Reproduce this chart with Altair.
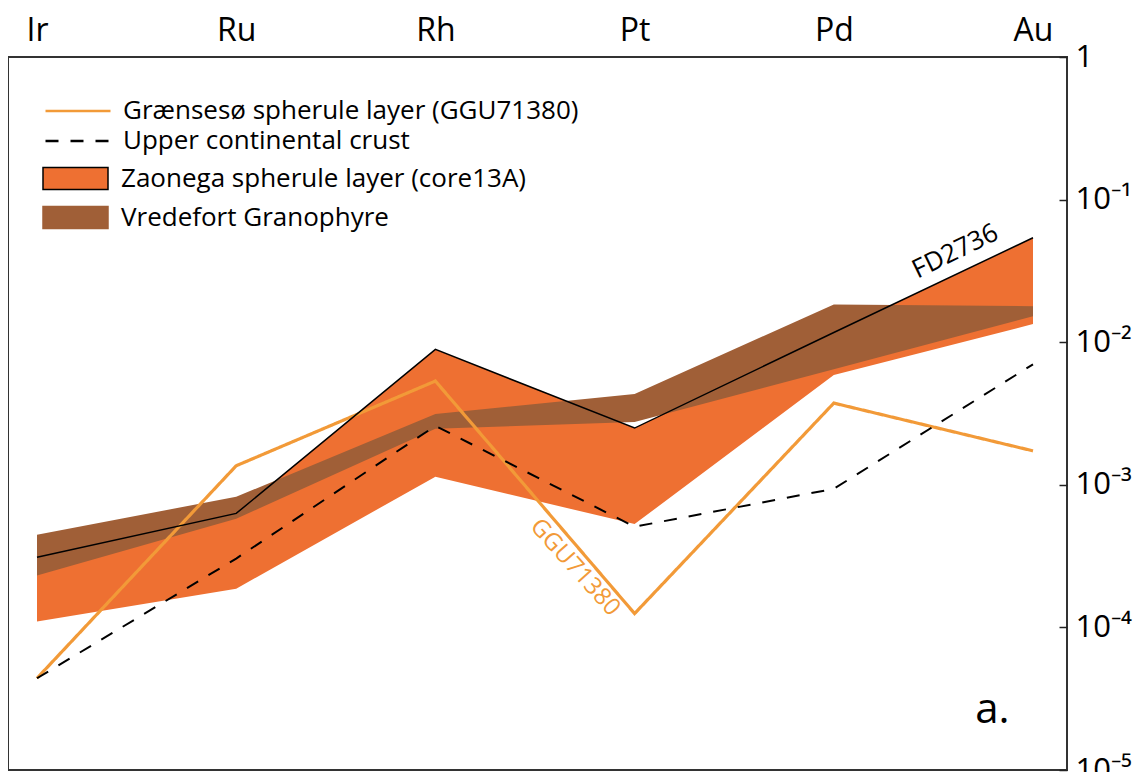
import json
import altair as alt
import pandas as pd

# ---------------- data ----------------
categories = ["Ir", "Ru", "Rh", "Pt", "Pd", "Au"]

fd2736 = [3.1e-4, 6.3e-4, 8.9e-3, 2.5e-3, 1.17e-2, 5.4e-2]          # Zaonega upper edge (FD2736)
zaonega_low = [1.1e-4, 1.87e-4, 1.14e-3, 5.3e-4, 5.9e-3, 1.34e-2]
vred_high = [4.47e-4, 8.24e-4, 3.14e-3, 4.33e-3, 1.84e-2, 1.79e-2]
vred_low = [2.31e-4, 5.78e-4, 2.47e-3, 2.76e-3, 6.47e-3, 1.52e-2]
graensesoe = [4.4e-5, 1.36e-3, 5.34e-3, 1.25e-4, 3.74e-3, 1.73e-3]
ucc = [4.4e-5, 3.04e-4, 2.59e-3, 5.08e-4, 9.37e-4, 7.0e-3]

line_names = ["Grænsesø spherule layer (GGU71380)", "Upper continental crust"]
area_names = ["Zaonega spherule layer (core13A)", "Vredefort Granophyre"]

y_ticks = [1e-5, 1e-4, 1e-3, 1e-2, 1e-1, 1]
y_tick_labels = ["10⁻⁵", "10⁻⁴", "10⁻³", "10⁻²", "10⁻¹", "1"]

annot_text = ["FD2736", "GGU71380", "a."]
annot_x = [4.61, 2.70, 4.71]
annot_y = [0.0433, 2.63e-4, 2.13e-5]

# ---------------- styling ----------------
ORANGE = "#EE7032"
BROWN = "#A05F37"
LIGHT = "#F29A38"
FONT = "Open Sans"

idx = list(range(len(categories)))

x_enc = alt.X(
    "i:Q",
    scale=alt.Scale(domain=[-0.1456, 5.1707], nice=False, zero=False),
    axis=alt.Axis(
        orient="top", values=idx,
        labelExpr=json.dumps(categories) + "[datum.value]",
        ticks=False, tickSize=0, domain=False, grid=False,
        labelFlush=False, labelOverlap=False,
        labelFont=FONT, labelFontSize=32, labelColor="black",
        labelPadding=17, labelBaseline="alphabetic", title=None,
    ),
)
y_enc = alt.Y(
    "value:Q",
    scale=alt.Scale(type="log", domain=[1e-5, 1], nice=False),
    axis=alt.Axis(
        orient="right", values=y_ticks,
        labelExpr=json.dumps(y_tick_labels, ensure_ascii=False)
        + "[round(log(datum.value)/LN10) + 5]",
        offset=-8, tickSize=8, tickColor="#222", tickWidth=1.5,
        domain=False, grid=False,
        labelFont=FONT, labelFontSize=31, labelColor="black",
        labelPadding=8, labelAlign="left", labelBaseline="middle",
        labelOverlap=False, labelFlush=False, title=None,
    ),
)

line_legend = alt.Legend(
    title=None, orient="none", legendX=36, legendY=39,
    symbolType="stroke", symbolSize=4225, symbolStrokeWidth=2.6,
    clipHeight=30, rowPadding=0, padding=0,
    labelFont=FONT, labelFontSize=26, labelColor="black",
    labelOffset=11, labelLimit=700,
)
area_legend = alt.Legend(
    title=None, orient="none", legendX=34, legendY=102,
    symbolType="M-1,-0.34H1V0.34H-1Z", symbolSize=4225, symbolStrokeWidth=1.5,
    clipHeight=39, rowPadding=0, padding=0,
    labelFont=FONT, labelFontSize=26, labelColor="black",
    labelOffset=12, labelLimit=700,
)

fill_enc = alt.Fill("series:N", scale=alt.Scale(domain=area_names, range=[ORANGE, BROWN]),
                    legend=area_legend)
area_stroke_enc = alt.Stroke("series:N", scale=alt.Scale(domain=area_names, range=["black", BROWN]),
                             legend=area_legend)
stroke_enc = alt.Stroke("series:N", scale=alt.Scale(domain=line_names, range=[LIGHT, "black"]),
                        legend=line_legend)
dash_enc = alt.StrokeDash("series:N", scale=alt.Scale(domain=line_names, range=[[1, 0], [13, 12]]),
                          legend=line_legend)

z_df = pd.DataFrame({"i": idx, "series": area_names[0], "value": fd2736, "value2": zaonega_low})
v_df = pd.DataFrame({"i": idx, "series": area_names[1], "value": vred_high, "value2": vred_low})
fd_df = pd.DataFrame({"i": idx, "value": fd2736})
g_df = pd.DataFrame({"i": idx, "series": line_names[0], "value": graensesoe})
u_df = pd.DataFrame({"i": idx, "series": line_names[1], "value": ucc})

areas = alt.layer(
    alt.Chart(z_df).mark_area(opacity=1),
    alt.Chart(v_df).mark_area(opacity=1),
).encode(
    x=x_enc, y=y_enc, y2="value2:Q", fill=fill_enc,
    stroke=area_stroke_enc, strokeOpacity=alt.value(0),
)
fd_line = alt.Chart(fd_df).mark_line(color="black", strokeWidth=1.5).encode(x=x_enc, y=y_enc)
lines = alt.layer(
    alt.Chart(g_df).mark_line(strokeWidth=3.2),
    alt.Chart(u_df).mark_line(strokeWidth=2),
).encode(x=x_enc, y=y_enc, stroke=stroke_enc, strokeDash=dash_enc)

fd_lab = alt.Chart(pd.DataFrame({"i": [annot_x[0]], "value": [annot_y[0]], "t": [annot_text[0]]})).mark_text(
    angle=334, font=FONT, fontSize=26, color="black", align="center", baseline="middle"
).encode(x=x_enc, y=y_enc, text="t:N")
ggu_lab = alt.Chart(pd.DataFrame({"i": [annot_x[1]], "value": [annot_y[1]], "t": [annot_text[1]]})).mark_text(
    angle=48, font=FONT, fontSize=24, color=LIGHT, align="center", baseline="middle"
).encode(x=x_enc, y=y_enc, text="t:N")
panel_lab = alt.Chart(pd.DataFrame({"i": [annot_x[2]], "value": [annot_y[2]], "t": [annot_text[2]]})).mark_text(
    font=FONT, fontSize=42, color="black", align="left", baseline="alphabetic"
).encode(x=x_enc, y=y_enc, text="t:N")

chart = alt.layer(
    areas, lines, fd_line, fd_lab, ggu_lab, panel_lab
).resolve_scale(
    stroke="independent", fill="independent", strokeDash="independent"
).properties(
    width=1059, height=713,
    padding={"left": 0, "top": 49, "right": 72, "bottom": 2},
    autosize=alt.AutoSizeParams(type="none"),
    background="white",
).configure_view(stroke="#333", strokeWidth=2)

chart.save("out.html", embed_options={"renderer": "svg", "actions": False})
